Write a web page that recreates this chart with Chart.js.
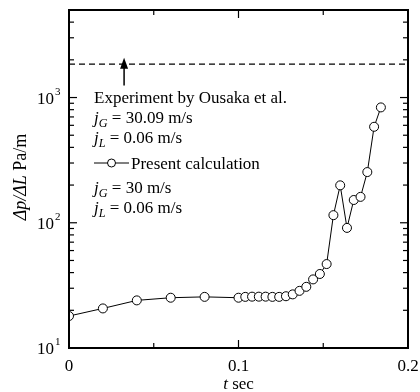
<!DOCTYPE html>
<html>
<head>
<meta charset="utf-8">
<script src="https://cdn.jsdelivr.net/npm/chart.js@4"></script>
<style>
  html, body { margin: 0; padding: 0; background: #fff; }
  #wrap { width: 420px; height: 392px; }
</style>
</head>
<body>
<div id="wrap"><canvas id="c"></canvas></div>
<script>
// time (s) and pressure gradient (Pa/m)
const times = [0, 0.02, 0.04, 0.06, 0.08, 0.1, 0.104, 0.108, 0.112, 0.116, 0.12, 0.124, 0.128,
    0.132, 0.136, 0.14, 0.144, 0.148, 0.152, 0.156, 0.16, 0.164, 0.168, 0.172, 0.176, 0.18, 0.184];
const pressureDrop = [18.0, 20.7, 24.0, 25.2, 25.6, 25.2, 25.6, 25.7, 25.7, 25.7, 25.6, 25.6, 25.9,
    26.8, 28.6, 30.8, 35.3, 39.0, 46.8, 115, 199, 91, 152, 161, 254, 584, 834];
const experimentLevel = 1850;
const arrowT = 0.0325;
const arrowFrom = 1250;
const arrowTo = 2080;

const xMajor = [0, 0.1, 0.2];
const xMinor = [0.05, 0.15];
const yDecades = [10, 100, 1000];
const yMax = 5000;

const SERIF = "'Liberation Serif', 'Times New Roman', serif";

// draw a line of mixed text runs: {t, it, sub}
function runs(ctx, parts, x, y, size) {
    let cx = x;
    for (const p of parts) {
        const fs = p.sub ? size * 0.72 : size;
        ctx.font = (p.it ? "italic " : "") + fs + "px " + SERIF;
        ctx.fillText(p.t, cx, p.sub ? y + size * 0.22 : y);
        cx += ctx.measureText(p.t).width;
    }
}

const framePlugin = {
    id: "frame",
    afterDraw(chart) {
        const { ctx, chartArea: a, scales } = chart;
        const xs = scales.x, ys = scales.y;
        ctx.save();
        ctx.strokeStyle = "#000";
        ctx.fillStyle = "#000";

        // inward ticks on all four sides
        ctx.lineWidth = 1.2;
        const tick = (x1, y1, x2, y2) => { ctx.beginPath(); ctx.moveTo(x1, y1); ctx.lineTo(x2, y2); ctx.stroke(); };
        for (const v of xMajor.concat(xMinor)) {
            const len = xMajor.includes(v) ? 8 : 5;
            const px = xs.getPixelForValue(v);
            tick(px, a.bottom, px, a.bottom - len);
            tick(px, a.top, px, a.top + len);
        }
        for (const d of yDecades) {
            for (let k = 1; k <= 9; k++) {
                const v = d * k;
                if (v > yMax) break;
                const len = k === 1 ? 8 : 5;
                const py = ys.getPixelForValue(v);
                tick(a.left, py, a.left + len, py);
                tick(a.right, py, a.right - len, py);
            }
        }

        // frame
        ctx.lineWidth = 2;
        ctx.strokeRect(a.left, a.top, a.right - a.left, a.bottom - a.top);

        // x tick labels
        ctx.textAlign = "center";
        ctx.textBaseline = "alphabetic";
        ctx.font = "17px " + SERIF;
        for (const v of xMajor) {
            ctx.fillText(String(v), xs.getPixelForValue(v), a.bottom + 23);
        }
        // y tick labels 10^n
        ctx.textAlign = "left";
        yDecades.forEach((d, i) => {
            const py = ys.getPixelForValue(d);
            ctx.font = "17px " + SERIF;
            const w = ctx.measureText("10").width;
            ctx.fillText("10", 54 - w, py + 6);
            ctx.font = "11px " + SERIF;
            ctx.fillText(String(i + 1), 55, py - 3);
        });

        // x title
        const xParts = [{ t: "t", it: true }, { t: " sec" }];
        let xw = 0;
        for (const p of xParts) { ctx.font = (p.it ? "italic " : "") + "17px " + SERIF; xw += ctx.measureText(p.t).width; }
        runs(ctx, xParts, (a.left + a.right) / 2 - xw / 2, 389, 17);

        // y title, rotated
        ctx.save();
        ctx.translate(26, 177);
        ctx.rotate(-Math.PI / 2);
        const yParts = [{ t: "\u0394p/\u0394L", it: true }, { t: " Pa/m" }];
        let tw = 0;
        for (const p of yParts) { ctx.font = (p.it ? "italic " : "") + "18px " + SERIF; tw += ctx.measureText(p.t).width; }
        runs(ctx, yParts, -tw / 2, 0, 18);
        ctx.restore();

        // arrow pointing at the experimental level
        const ax = xs.getPixelForValue(arrowT);
        const y0 = ys.getPixelForValue(arrowFrom), y1 = ys.getPixelForValue(arrowTo);
        ctx.lineWidth = 1.5;
        tick(ax, y0, ax, y1 + 8);
        ctx.beginPath();
        ctx.moveTo(ax, y1);
        ctx.lineTo(ax - 4, y1 + 11);
        ctx.lineTo(ax + 4, y1 + 11);
        ctx.closePath();
        ctx.fill();

        // annotation text
        const lx = 94, fs = 17;
        runs(ctx, [{ t: "Experiment by Ousaka et al." }], lx, 103, fs);
        runs(ctx, [{ t: "j", it: true }, { t: "G", it: true, sub: true }, { t: " = 30.09 m/s" }], lx, 123, fs);
        runs(ctx, [{ t: "j", it: true }, { t: "L", it: true, sub: true }, { t: " = 0.06 m/s" }], lx, 143, fs);

        // legend sample for the calculated series
        const my = 163;
        ctx.lineWidth = 1;
        tick(lx, my, lx + 35, my);
        ctx.beginPath();
        ctx.arc(lx + 17.5, my, 4, 0, Math.PI * 2);
        ctx.fillStyle = "#fff";
        ctx.fill();
        ctx.stroke();
        ctx.fillStyle = "#000";
        runs(ctx, [{ t: "Present calculation" }], lx + 37, 169, fs);
        runs(ctx, [{ t: "j", it: true }, { t: "G", it: true, sub: true }, { t: " = 30 m/s" }], lx, 193, fs);
        runs(ctx, [{ t: "j", it: true }, { t: "L", it: true, sub: true }, { t: " = 0.06 m/s" }], lx, 213, fs);

        ctx.restore();
    }
};

new Chart(document.getElementById("c"), {
    type: "line",
    data: {
        datasets: [
            {
                label: "Present calculation",
                data: times.map((t, i) => ({ x: t, y: pressureDrop[i] })),
                borderColor: "#000",
                borderWidth: 1,
                pointRadius: 4.5,
                pointBackgroundColor: "#fff",
                pointBorderColor: "#000",
                pointBorderWidth: 1,
                tension: 0
            },
            {
                label: "Experiment by Ousaka et al.",
                data: [{ x: xMajor[0], y: experimentLevel }, { x: xMajor[xMajor.length - 1], y: experimentLevel }],
                borderColor: "#000",
                borderWidth: 1.3,
                borderDash: [6, 4],
                pointRadius: 0
            }
        ]
    },
    options: {
        responsive: true,
        maintainAspectRatio: false,
        animation: false,
        layout: { padding: { left: 69, right: 12, top: 10, bottom: 44 } },
        plugins: { legend: { display: false }, tooltip: { enabled: false } },
        scales: {
            x: { type: "linear", min: 0, max: 0.2, display: false },
            y: { type: "logarithmic", min: 10, max: yMax, display: false }
        }
    },
    plugins: [framePlugin]
});
</script>
</body>
</html>
